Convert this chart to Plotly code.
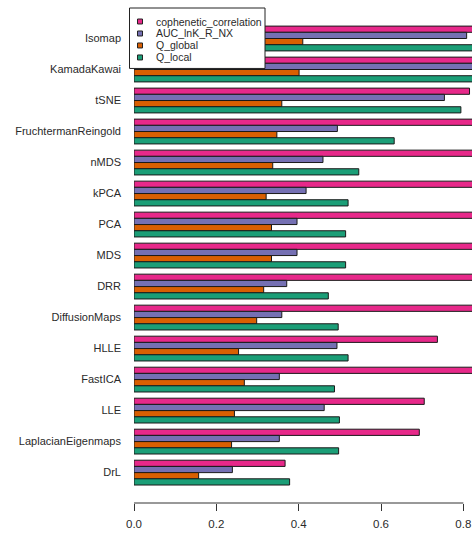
import plotly.graph_objects as go

methods = ["Isomap", "KamadaKawai", "tSNE", "FruchtermanReingold", "nMDS", "kPCA",
           "PCA", "MDS", "DRR", "DiffusionMaps", "HLLE", "FastICA", "LLE",
           "LaplacianEigenmaps", "DrL"]
series_names = ["cophenetic_correlation", "AUC_lnK_R_NX", "Q_global", "Q_local"]
cophenetic_correlation = [0.91, 0.90, 0.815, 0.88, 0.87, 0.86, 0.89, 0.89, 0.86, 0.88,
                          0.737, 0.85, 0.705, 0.693, 0.367]
AUC_lnK_R_NX = [0.808, 0.83, 0.754, 0.494, 0.459, 0.418, 0.396, 0.396, 0.371, 0.359,
                0.493, 0.353, 0.462, 0.353, 0.239]
Q_global = [0.41, 0.401, 0.359, 0.347, 0.337, 0.321, 0.334, 0.334, 0.315, 0.298,
            0.254, 0.268, 0.244, 0.237, 0.157]
Q_local = [0.84, 0.85, 0.794, 0.632, 0.546, 0.520, 0.514, 0.514, 0.472, 0.496,
           0.520, 0.487, 0.499, 0.497, 0.378]
colors = ["#E7298A", "#7570B3", "#D95F02", "#1B9E77"]
x_ticks = [0.0, 0.2, 0.4, 0.6, 0.8]

series_values = [cophenetic_correlation, AUC_lnK_R_NX, Q_global, Q_local]

fig = go.Figure()
for name, vals, col in zip(series_names, series_values, colors):
    fig.add_trace(go.Bar(
        y=methods, x=vals, name=name, orientation="h",
        marker=dict(color=col, line=dict(color="#1a1a1a", width=1)),
        showlegend=False,
    ))

W, H = 472, 535
ml, mr, mt, mb = 134, 0, 22.5, 32
fig.update_layout(
    width=W, height=H,
    margin=dict(l=ml, r=mr, t=mt, b=mb, pad=0),
    barmode="group", bargap=0.2, bargroupgap=0,
    plot_bgcolor="white", paper_bgcolor="white",
    font=dict(family="Liberation Sans, Arial, sans-serif", size=11, color="#2a2a2a"),
)
fig.update_xaxes(
    range=[0, 0.821], tickvals=x_ticks, tickformat=".1f",
    showgrid=False, zeroline=False, showline=False,
    ticks="outside", ticklen=7, tickcolor="#333", tickwidth=1,
    ticklabelstandoff=3, tickfont=dict(size=11.5),
)
fig.update_yaxes(
    categoryorder="array", categoryarray=methods,
    range=[14.98, -0.5], showgrid=False, zeroline=False, showline=False,
    ticks="", ticklabelstandoff=12, tickfont=dict(size=11),
)

# axis line spanning the tick range (R style)
fig.add_shape(type="line", xref="x", yref="paper", x0=x_ticks[0], x1=x_ticks[-1],
              y0=0, y1=0, line=dict(color="#333", width=1))

# legend box (R style)
ph = H - mt - mb
def py(ypix):
    return 1 - (ypix - mt) / ph
pw = W - ml - mr
def px(xpix):
    return (xpix - ml) / pw

fig.add_shape(type="rect", xref="paper", yref="paper",
              x0=px(129.5), x1=px(265), y0=py(68), y1=py(7.5),
              fillcolor="white", line=dict(color="#222", width=1), layer="above")
for i, (name, col) in enumerate(zip(series_names, colors)):
    yc = 21 + 12 * i
    fig.add_shape(type="rect", xref="paper", yref="paper",
                  x0=px(137.5), x1=px(142.5), y0=py(yc + 2.5), y1=py(yc - 2.5),
                  fillcolor=col, line=dict(color="#222", width=1), layer="above")
    fig.add_annotation(xref="paper", yref="paper", x=px(154), y=py(yc),
                       text=name, showarrow=False, xanchor="left", yanchor="middle",
                       font=dict(size=10.5, color="#2a2a2a"))

fig.write_html("out.html")
